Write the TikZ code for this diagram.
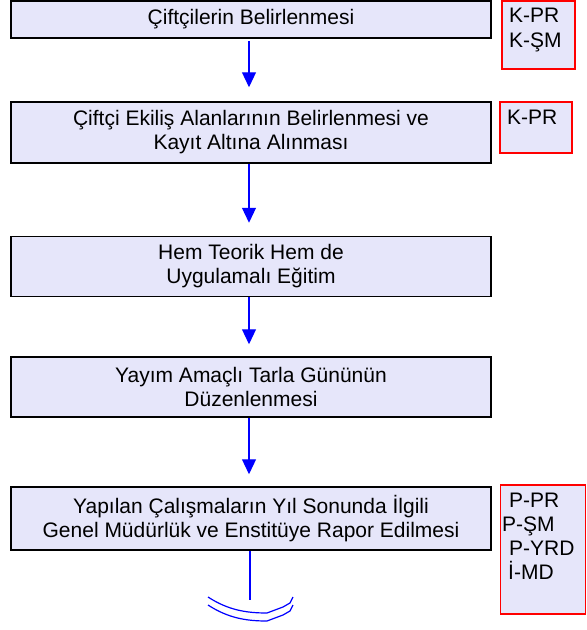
\documentclass[tikz,border=0pt]{standalone}
\usepackage{fontspec}
\setmainfont{Liberation Sans}
\usetikzlibrary{arrows.meta}
\definecolor{boxfill}{RGB}{230,230,250}
\definecolor{arrblue}{RGB}{0,0,255}
\tikzset{
  stepbox/.style={draw=black, line width=1.5pt, fill=boxfill, minimum width=480pt,
    align=center, inner sep=0pt, font=\fontsize{21}{24}\selectfont},
  redbox/.style={draw=red, line width=1.6pt, fill=boxfill, inner sep=0pt},
  redtxt/.style={anchor=base west, inner sep=0pt, font=\fontsize{21}{24}\selectfont},
  flow/.style={draw=arrblue, line width=1.2pt, -{Triangle[width=14pt,length=15pt]}},
  cup/.style={draw=arrblue, line width=1.2pt}
}
\begin{document}
\begin{tikzpicture}[x=1pt,y=-1pt]
\useasboundingbox (0,0) rectangle (587,630);
\node[stepbox, minimum height=37pt] (b1) at (251,19.5) {Çiftçilerin Belirlenmesi};
\node[stepbox, minimum height=61pt] (b2) at (251,132.5) {Çiftçi Ekiliş Alanlarının Belirlenmesi ve\\Kayıt Altına Alınması};
\node[stepbox, minimum height=60pt] (b3) at (251,266.5) {Hem Teorik Hem de\\Uygulamalı Eğitim};
\node[stepbox, minimum height=60pt] (b4) at (251,387) {Yayım Amaçlı Tarla Gününün\\Düzenlenmesi};
\node[stepbox, minimum height=63pt] (b5) at (251,518.5) {Yapılan Çalışmaların Yıl Sonunda İlgili\\Genel Müdürlük ve Enstitüye Rapor Edilmesi};

\node[redbox, minimum width=73pt, minimum height=68pt] (r1) at (538.5,35) {};
\node[redbox, minimum width=72pt, minimum height=51pt] (r2) at (536,127.5) {};
\node[redbox, minimum width=85pt, minimum height=129pt] (r5) at (543,549.5) {};

\node[redtxt] (r1a) at (509,22) {K-PR};
\node[redtxt] (r1b) at (509,47) {K-ŞM};
\node[redtxt] (r2a) at (507,124) {K-PR};
\node[redtxt] (r5a) at (509,507) {P-PR};
\node[redtxt] (r5b) at (502,531) {P-ŞM};
\node[redtxt] (r5c) at (509,555) {P-YRD};
\node[redtxt] (r5d) at (508,579) {İ-MD};

\draw[flow, shorten <=2pt, shorten >=14pt] (b1.south -| 249,0) -- (b2.north -| 249,0);
\draw[flow, shorten >=13pt] (b2.south -| 249,0) -- (b3.north -| 249,0);
\draw[flow, shorten >=12pt] (b3.south -| 249,0) -- (b4.north -| 249,0);
\draw[flow, shorten >=12pt] (b4.south -| 249,0) -- (b5.north -| 249,0);

\coordinate (endp) at (250,600);
\draw[cup] (b5.south -| endp) -- (endp);
\draw[cup] (208,597) .. controls (228,610) and (246,613) .. (267,613) -- (283,607) -- (290,603) -- (293,597);
\draw[cup] (208,605) .. controls (228,618) and (246,621) .. (267,621) -- (283,615) -- (290,611) -- (293,605);
\end{tikzpicture}
\end{document}
